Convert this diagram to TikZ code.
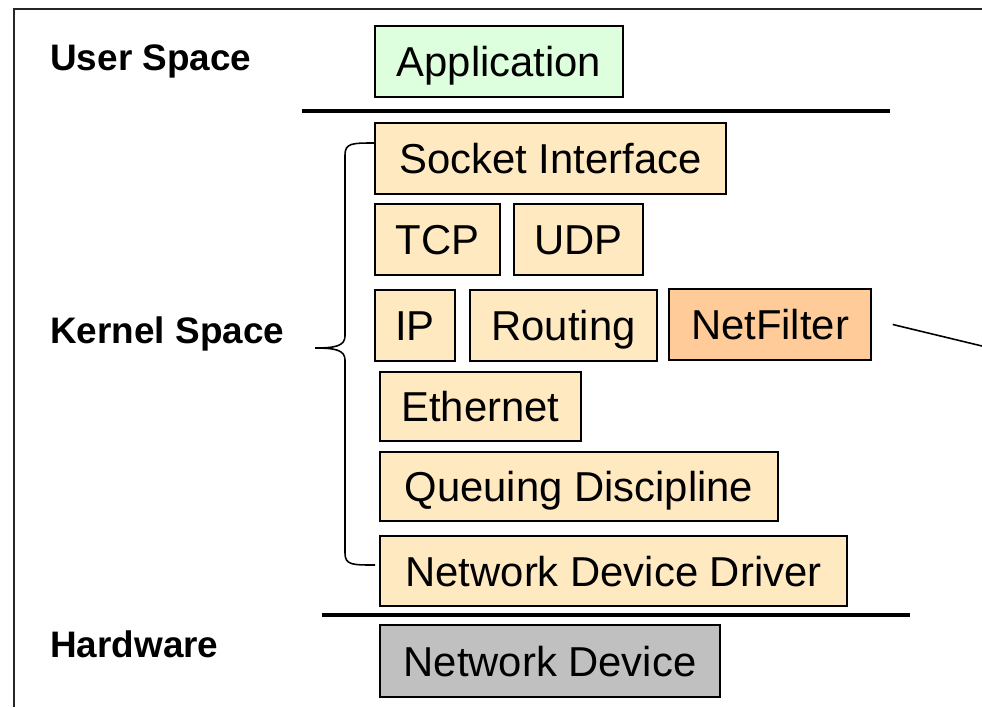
\documentclass[tikz,border=0pt]{standalone}
\usepackage{fontspec}
\setmainfont{Liberation Sans}

\definecolor{appgreen}{HTML}{DDFFDD}
\definecolor{kernbox}{HTML}{FFE9C1}
\definecolor{filterbox}{HTML}{FFCC99}
\definecolor{hwgray}{HTML}{C0C0C0}

\tikzset{
  layer/.style={draw, line width=0.9pt, fill=kernbox, minimum height=1.42cm,
    text height=21.6pt, text depth=4pt, inner sep=0pt,
    font=\fontsize{23.8}{28}\selectfont},
  spacelabel/.style={anchor=base west, inner sep=0pt,
    font=\fontsize{21}{25}\selectfont\bfseries},
  divider/.style={line width=2.2pt}
}

\begin{document}
\begin{tikzpicture}[x=0.02cm, y=-0.02cm]
    \useasboundingbox (0,0) rectangle (982,707);
    % Outer frame
    \draw[line width=1.2pt, black!85] (14,707) -- (14,9) -- (982,9);

    % Labels on the left
    \node[spacelabel] (user) at (50,70) {User Space};
    \node[spacelabel] (kernel) at (50,343) {Kernel Space};
    \node[spacelabel] (hw) at (50,657) {Hardware};

    % User space
    \node[layer, fill=appgreen, minimum width=4.96cm] (app) at (499,61.5) {Application};
    \draw[divider] (302,111) -- (890,111);

    % Kernel space rows
    \node[layer, minimum width=7.02cm] (sock) at (550.5,158.5) {Socket Interface};

    \node[layer, minimum width=2.5cm] (tcp) at (437.5,239.5) {TCP};
    \node[layer, minimum width=2.58cm] (udp) at (578.5,239.5) {UDP};

    \node[layer, minimum width=1.6cm] (ip) at (415,325.5) {IP};
    \node[layer, minimum width=3.74cm] (route) at (563.5,325.5) {Routing};
    \node[layer, fill=filterbox, minimum width=4.04cm] (nf) at (770,324.5) {NetFilter};

    \node[layer, minimum width=4.02cm, minimum height=1.38cm] (eth) at (480.5,406.5) {Ethernet};
    \node[layer, minimum width=7.96cm, minimum height=1.38cm] (queue) at (579,486.5) {Queuing Discipline};
    \node[layer, minimum width=9.34cm, minimum height=1.4cm] (driver) at (613.5,571) {Network Device Driver};
    \draw[divider] (322,615) -- (910,615);

    % Hardware
    \node[layer, fill=hwgray, minimum width=6.8cm, minimum height=1.44cm] (netdev) at (550,661) {Network Device};

    % Brace round the kernel layers
    \coordinate (btop) at (375,143);
    \coordinate (btip) at (315,348);
    \coordinate (bbot) at (375,565);
    \draw[line width=0.9pt] (btop) .. controls (352,143) and (345,143) .. (345,155)
        -- (345,336) .. controls (345,346) and (335,348) .. (btip)
        .. controls (335,348) and (345,350) .. (345,360)
        -- (345,553) .. controls (345,565) and (352,565) .. (bbot);

    % NetFilter lead-out
    \coordinate (nfend) at (982,346);
    \draw[line width=0.9pt] ([xshift=0.42cm]nf.east) -- (nfend);
\end{tikzpicture}
\end{document}
